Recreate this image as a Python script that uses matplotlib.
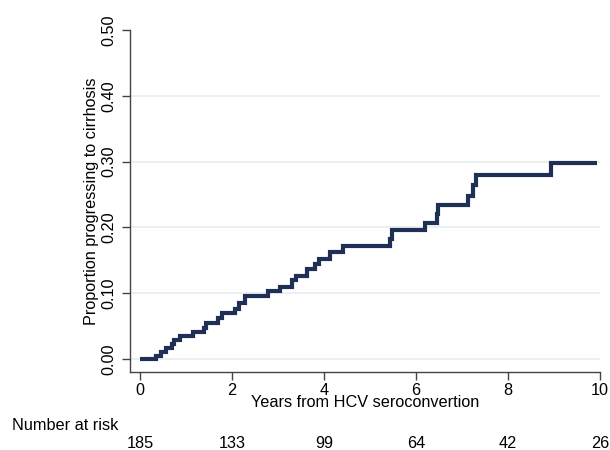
import matplotlib

matplotlib.use("Agg")
import matplotlib.pyplot as plt
import matplotlib.transforms as mtransforms

plt.rcParams["font.family"] = ["Liberation Sans", "DejaVu Sans"]

# Kaplan-Meier style cumulative proportion (step times in years, level after step)
years = [0.0, 0.34, 0.45, 0.56, 0.69, 0.74, 0.87, 1.15, 1.39, 1.43, 1.69, 1.78,
         2.06, 2.15, 2.28, 2.78, 3.05, 3.30, 3.40, 3.64, 3.80, 3.89, 4.13, 4.42,
         5.43, 5.47, 6.20, 6.45, 6.48, 7.12, 7.24, 7.30, 8.93, 9.93]
proportion = [0.0, 0.005, 0.011, 0.016, 0.023, 0.029, 0.035, 0.041, 0.047, 0.055,
              0.062, 0.070, 0.076, 0.085, 0.096, 0.103, 0.110, 0.120, 0.126, 0.137,
              0.145, 0.152, 0.162, 0.171, 0.183, 0.196, 0.207, 0.221, 0.234, 0.248,
              0.265, 0.280, 0.298, 0.298]

risk_times = [0, 2, 4, 6, 8, 10]
at_risk = [185, 133, 99, 64, 42, 26]
y_ticks = [0.0, 0.1, 0.2, 0.3, 0.4, 0.5]

NAVY = "#1f2f55"
AXIS = "#444444"
FS = 11.7

fig = plt.figure(figsize=(6.1, 4.5), dpi=100)
ax = fig.add_axes([130 / 610, 1 - 372 / 450, 470 / 610, 342 / 450])

for t in y_ticks[:-1]:
    ax.axhline(t, color="#e6ecef", lw=1.2, zorder=0)

ax.step(years, proportion, where="post", color=NAVY, lw=3.0,
        solid_joinstyle="miter", solid_capstyle="butt", zorder=3)

ax.set_xlim(-0.217, 10.0)
ax.set_ylim(-0.0198, 0.50)
ax.set_xticks(risk_times)
ax.set_yticks(y_ticks)
ax.set_yticklabels([f"{t:.2f}" for t in y_ticks], rotation=90, va="center")
ax.tick_params(axis="both", colors=AXIS, labelcolor="black", labelsize=FS,
               length=6, width=1)
ax.tick_params(axis="x", pad=2)
ax.spines[["top", "right"]].set_visible(False)
for s in ("left", "bottom"):
    ax.spines[s].set_color(AXIS)
    ax.spines[s].set_linewidth(1)

ax.set_ylabel("Proportion progressing to cirrhosis", fontsize=FS, labelpad=2)
ax.set_xlabel("Years from HCV seroconvertion", fontsize=FS, labelpad=-2)

# number-at-risk table below the axis
trans = mtransforms.blended_transform_factory(ax.transData, fig.transFigure)
fig.text(12 / 610, 1 - 426 / 450, "Number at risk", fontsize=FS,
         ha="left", va="center")
for t, n in zip(risk_times, at_risk):
    ax.text(t, 1 - 444 / 450, str(n), transform=trans, fontsize=FS,
            ha="center", va="center")

fig.savefig("out.png", dpi=100)
